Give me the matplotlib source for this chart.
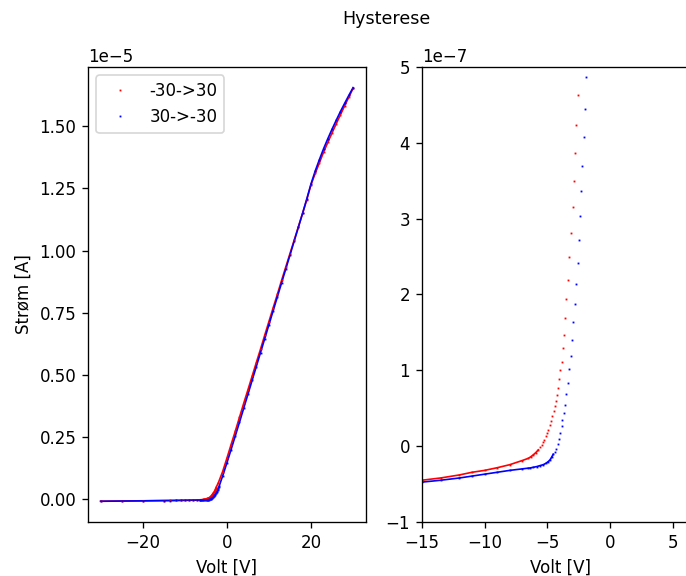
import numpy as np
import matplotlib.pyplot as plt

# sweep -30 -> 30 (red), current in units of 1e-7 A
up_v = np.array([-30, -25, -20, -15, -13.5, -12, -11, -10, -9, -8, -7, -6.5,
                 -6.30, -6.12, -5.91, -5.72, -5.59, -5.46, -5.35, -5.24, -5.14, -5.03,
                 -4.93, -4.82, -4.71, -4.61, -4.50, -4.42, -4.34, -4.26, -4.18, -4.08,
                 -3.97, -3.87, -3.79, -3.71, -3.60, -3.49, -3.39, -3.28, -3.10, -2.99,
                 -2.91, -2.80, -2.70, -2.59, -2.49,
                 -2, -1, 0, 1, 2, 3, 4, 5, 6, 7, 8, 9, 10, 11, 12, 13, 14, 15,
                 16, 17, 18, 19, 20, 21, 22, 23, 24, 25, 26, 27, 28, 29, 30])
up_i = np.array([-0.70, -0.62, -0.55, -0.45, -0.42, -0.38, -0.345, -0.32, -0.285, -0.245, -0.19, -0.16,
                 -0.138, -0.115, -0.084, -0.049, -0.014, 0.017, 0.048, 0.084, 0.128, 0.172,
                 0.216, 0.278, 0.336, 0.393, 0.459, 0.526, 0.601, 0.680, 0.769, 0.879,
                 0.999, 1.105, 1.290, 1.463, 1.693, 1.940, 2.197, 2.493, 2.807, 3.147,
                 3.492, 3.863, 4.239, 4.633, 5.03,
                 6.8, 11.2, 16.5, 22.0, 27.4, 33.0, 38.6, 44.0, 49.5, 55.0, 60.4, 66.0, 71.5,
                 77.0, 82.4, 88.0, 93.4, 98.8, 104.2, 109.6, 115.0, 120.5, 126.5, 131.0,
                 135.3, 139.6, 143.5, 147.3, 151.0, 154.6, 158.2, 161.7, 165.2]) * 1e-7

# sweep 30 -> -30 (blue)
down_v = np.array([-30, -25, -20, -15, -13.5, -12, -11, -10, -9, -8, -7, -6.5,
                   -6.38, -6.12, -5.85, -5.59, -5.32, -5.11, -4.93, -4.79, -4.66, -4.53,
                   -4.40, -4.29, -4.18, -4.08, -3.97, -3.87, -3.81, -3.71, -3.60, -3.49,
                   -3.39, -3.28, -3.11, -3.02, -2.94, -2.83, -2.72, -2.59, -2.51, -2.41,
                   -2.33, -2.22, -2.11, -2.01, -1.93, -1.84,
                   -1, 0, 1, 2, 3, 4, 5, 6, 7, 8, 9, 10, 11, 12, 13, 14, 15,
                   16, 17, 18, 19, 20, 21, 22, 23, 24, 25, 26, 27, 28, 29, 30])
down_i = np.array([-0.75, -0.66, -0.58, -0.475, -0.45, -0.42, -0.395, -0.37, -0.345, -0.32, -0.30, -0.29,
                   -0.288, -0.279, -0.270, -0.257, -0.244, -0.226, -0.204, -0.182, -0.146, -0.107,
                   -0.071, -0.036, 0.026, 0.092, 0.172, 0.260, 0.340, 0.442, 0.548, 0.685,
                   0.831, 1.012, 1.189, 1.401, 1.631, 1.878, 2.135, 2.41, 2.72, 3.03,
                   3.36, 3.70, 4.08, 4.45, 4.87, 5.3,
                   9.4, 14.6, 20.0, 25.5, 31.0, 36.6, 42.2, 47.8, 53.4, 59.0, 64.6, 70.2,
                   75.8, 81.4, 87.0, 92.6, 98.2, 103.8, 109.4, 115.0, 120.8, 126.8, 132.0,
                   136.6, 141.0, 145.0, 148.8, 152.4, 155.9, 159.2, 162.4, 165.5]) * 1e-7

fig = plt.figure(figsize=(686 / 120, 576 / 120), dpi=120)
ax1 = fig.add_axes([0.1283, 0.0938, 0.4048, 0.79])
ax2 = fig.add_axes([0.6147, 0.0938, 0.4048, 0.79])

# left: full sweep (points are dense, so draw as a thin line)
ax1.plot(up_v, up_i, '-', color='red', lw=1.0)
ax1.plot(down_v, down_i, '-', color='blue', lw=1.0)
ax1.plot(up_v, up_i, 's', color='red', ms=1.1, mew=0, label='-30->30')
ax1.plot(down_v, down_i, 's', color='blue', ms=1.1, mew=0, label='30->-30')
ax1.set_xlabel('Volt [V]')
ax1.set_ylabel('Strøm [A]')
ax1.legend(loc='upper left')

# right: zoom on the knee
ax2.plot(up_v[up_v <= -5.6], up_i[up_v <= -5.6], '-', color='red', lw=1.0)
ax2.plot(down_v[down_v <= -4.5], down_i[down_v <= -4.5], '-', color='blue', lw=1.0)
ax2.plot(up_v, up_i, 's', color='red', ms=1.1, mew=0)
ax2.plot(down_v, down_i, 's', color='blue', ms=1.1, mew=0)
ax2.set_xlim(-15, 7.1)
ax2.set_ylim(-1e-7, 5e-7)
ax2.set_xlabel('Volt [V]')

fig.suptitle('Hysterese', x=0.563, y=0.983, fontsize=10.5)

plt.savefig('out.png', dpi=120)
